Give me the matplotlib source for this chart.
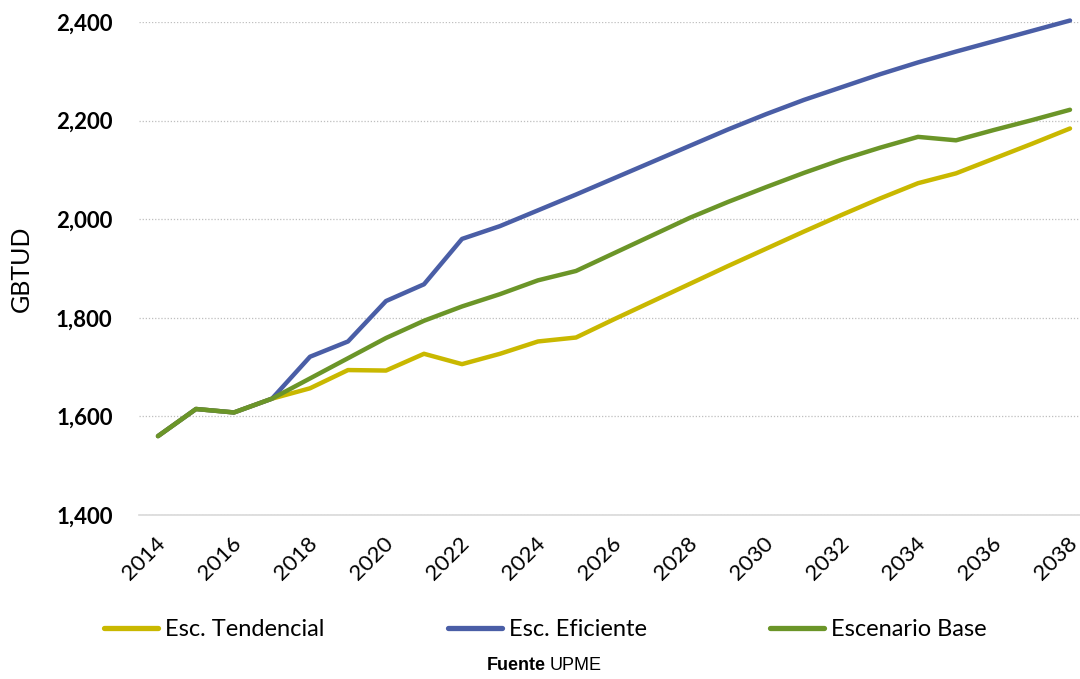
import matplotlib
matplotlib.use("Agg")
import matplotlib.pyplot as plt
from matplotlib.ticker import FuncFormatter
import matplotlib.transforms as mtransforms

years = list(range(2014, 2039))
tendencial = [1560, 1615, 1608, 1636, 1657, 1694, 1693, 1727, 1706, 1727, 1752, 1760,
              1797, 1833, 1869, 1905, 1940, 1975, 2009, 2042, 2073, 2093, 2123, 2153, 2184]
eficiente = [1560, 1615, 1608, 1636, 1721, 1752, 1834, 1868, 1960, 1986, 2018, 2050,
             2083, 2116, 2149, 2182, 2213, 2242, 2268, 2294, 2318, 2340, 2361, 2382, 2403]
base = [1560, 1615, 1608, 1636, 1677, 1718, 1759, 1794, 1823, 1848, 1876, 1895,
        1931, 1967, 2003, 2035, 2065, 2094, 2121, 2145, 2167, 2160, 2181, 2201, 2222]
series_names = ["Esc. Tendencial", "Esc. Eficiente", "Escenario Base"]
colors = ["#C9B800", "#4A5EA6", "#6B9528"]
yticks = [1400, 1600, 1800, 2000, 2200, 2400]
xticks = list(range(2014, 2039, 2))

plt.rcParams['font.family'] = ['Lato', 'DejaVu Sans']

fig = plt.figure(figsize=(10.8, 6.79), dpi=100)
ax = fig.add_axes([139/1080, 1 - 515/679, 941/1080, (515 - 22)/679])

for vals, name, c in zip([tendencial, eficiente, base], series_names, colors):
    ax.plot(years, vals, color=c, lw=3.2, label=name, clip_on=False,
            solid_capstyle='round', solid_joinstyle='round')

ax.set_xlim(2013.5, 2038 + 10/38)
ax.set_ylim(1400, 2400)
ax.set_yticks(yticks)
ax.set_xticks(xticks)
ax.yaxis.set_major_formatter(FuncFormatter(lambda v, p: f"{int(v):,}"))
ax.grid(axis='y', color='#BFBFBF', linestyle=(0, (1, 1.5)), lw=0.9)
ax.set_axisbelow(True)
for s in ['top', 'right', 'left']:
    ax.spines[s].set_visible(False)
ax.spines['bottom'].set_color('#D9D9D9')
ax.spines['bottom'].set_linewidth(1.2)
ax.tick_params(axis='both', length=0)
ax.tick_params(axis='y', pad=19, labelsize=16)
ax.tick_params(axis='x', pad=13, labelsize=16)
for lbl in ax.get_yticklabels():
    lbl.set_fontweight('bold')
shift = mtransforms.ScaledTranslation(-2/72, 0, fig.dpi_scale_trans)
for lbl in ax.get_xticklabels():
    lbl.set_rotation(45)
    lbl.set_ha('right')
    lbl.set_va('top')
    lbl.set_rotation_mode('anchor')
    lbl.set_transform(lbl.get_transform() + shift)

ax.set_ylabel("GBTUD", fontsize=18)
ax.yaxis.set_label_coords(-0.113, 0.5)

leg = fig.legend(loc='center', bbox_to_anchor=(0.505, 1 - 630/679), ncol=3,
                 frameon=False, fontsize=17, handlelength=2.3, handletextpad=0.3,
                 columnspacing=5.2)
for h in leg.legend_handles:
    h.set_linewidth(3.8)

fig.text(546/1080, 1 - 666/679, "Fuente", fontsize=13, fontweight='bold',
         family='Liberation Sans', ha='right', va='center')
fig.text(550/1080, 1 - 666/679, "UPME", fontsize=13,
         family='Liberation Sans', ha='left', va='center')

fig.savefig("out.png", dpi=100)
